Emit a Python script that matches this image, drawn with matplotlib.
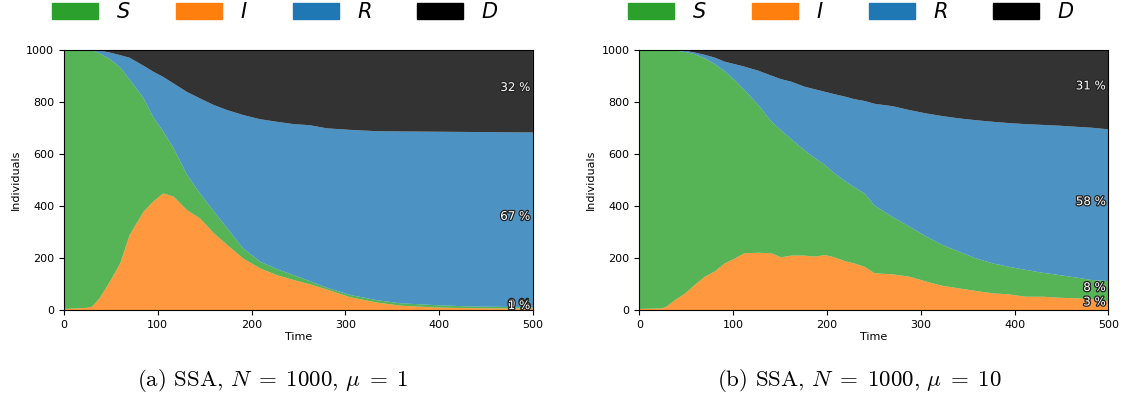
import numpy as np
import matplotlib.pyplot as plt
import matplotlib.patheffects as pe
from matplotlib.patches import Patch

N = 1000
names = ['S', 'I', 'R', 'D']
colors = {'S': 'tab:green', 'I': 'tab:orange', 'R': 'tab:blue', 'D': 'black'}

# (a) SSA, mu = 1
t_a = [0, 24, 30, 38, 49, 60, 70, 85, 95, 106, 117, 131, 145, 160, 174, 191, 209,
       227, 245, 262, 280, 305, 333, 358, 394, 429, 465, 500]
I_a = [4, 8, 13, 45, 109, 179, 288, 378, 416, 448, 435, 384, 352, 294, 250, 198, 160,
       134, 115, 99, 79, 49, 29, 17, 10, 7, 6, 6]
S_a = [996, 991, 985, 941, 855, 753, 597, 435, 326, 237, 186, 137, 96, 84, 64, 39, 26,
       23, 19, 12, 7, 9, 9, 9, 9, 7, 6, 4]
R_a = [0, 1, 1, 11, 25, 47, 84, 125, 174, 210, 249, 317, 365, 409, 454, 512, 547,
       566, 580, 599, 612, 634, 649, 660, 666, 670, 671, 672]
D_a = [0, 0, 1, 3, 11, 21, 31, 62, 84, 105, 130, 162, 187, 213, 232, 251, 267,
       277, 286, 290, 302, 308, 313, 314, 315, 316, 317, 318]

# (b) SSA, mu = 10
t_b = [0, 24, 29, 38, 49, 59, 70, 80, 91, 102, 112, 127, 141, 151, 162, 176, 187, 198,
       208, 219, 229, 240, 251, 270, 288, 306, 323, 341, 359, 377, 394, 412, 430, 448,
       465, 483, 500]
I_b = [4, 6, 13, 38, 64, 96, 128, 147, 179, 198, 218, 220, 218, 202, 209, 209, 205, 211,
       202, 188, 179, 166, 141, 137, 128, 109, 93, 83, 73, 64, 60, 51, 51, 47,
       45, 42, 34]
S_b = [996, 993, 986, 959, 927, 887, 838, 799, 738, 684, 627, 567, 505, 489, 447, 405, 379, 346,
       323, 308, 293, 282, 259, 221, 192, 173, 157, 141, 125, 115, 106, 103, 92, 87,
       80, 73, 77]
R_b = [0, 1, 1, 2, 5, 6, 14, 24, 37, 62, 90, 132, 177, 196, 221, 244, 264, 281,
       304, 324, 338, 355, 392, 425, 448, 473, 495, 512, 531, 544, 552, 560, 568, 574,
       579, 585, 583]
D_b = [0, 0, 0, 1, 4, 11, 20, 30, 46, 56, 65, 81, 100, 113, 123, 142, 152, 162,
       171, 180, 190, 197, 208, 217, 232, 245, 255, 264, 271, 277, 282, 286, 289, 292,
       296, 300, 306]

captions = [r'(a) SSA, $N\;=\;1000$, $\mu\;=\;1$', r'(b) SSA, $N\;=\;1000$, $\mu\;=\;10$']


# stacked areas, I at the bottom, then S, R, D
def draw_panel(ax, t, S, I, R, D):
    series = {'S': S, 'I': I, 'R': R, 'D': D}
    order = ['I', 'S', 'R', 'D']
    ax.stackplot(t, *[series[k] for k in order],
                 colors=[colors[k] for k in order], alpha=0.8, linewidth=1)
    ax.set_xlim(0, 500)
    ax.set_ylim(0, N)
    ax.set_xticks(np.arange(0, 501, 100))
    ax.set_yticks(np.arange(0, 1001, 200))
    ax.tick_params(labelsize=8)
    ax.set_xlabel('Time', fontsize=8, labelpad=2)
    ax.set_ylabel('Individuals', fontsize=8)
    # final share of each compartment, drawn top-down so I ends up on top
    mids = {}
    base = 0
    for k in order:
        mids[k] = base + series[k][-1] / 2
        base += series[k][-1]
    for k in order[::-1]:
        v = series[k][-1]
        ax.text(497, mids[k] + 14, '{:.0f} %'.format(v / N * 100),
                ha='right', va='center', fontsize=8.5, color='white',
                path_effects=[pe.withStroke(linewidth=1.8, foreground='#222222')])


fig = plt.figure(figsize=(11.26, 4.03), dpi=100)
ax_a = fig.add_axes([0.0568, 0.2308, 0.4165, 0.6459])
ax_b = fig.add_axes([0.5678, 0.2308, 0.4165, 0.6459])
draw_panel(ax_a, t_a, S_a, I_a, R_a, D_a)
draw_panel(ax_b, t_b, S_b, I_b, R_b, D_b)

handles = [Patch(color=colors[k]) for k in names]
labels = ['$' + k + '$' for k in names]
for x in [275 / 1126, 851 / 1126]:
    fig.legend(handles, labels, loc='center', bbox_to_anchor=(x, 1 - 12 / 403),
               ncol=4, frameon=False, fontsize=15, handlelength=2.2,
               handleheight=0.8, columnspacing=2.2, handletextpad=0.85,
               borderpad=0, borderaxespad=0)

for x, c in zip([273 / 1126, 859 / 1126], captions):
    fig.text(x, 1 - 380 / 403, c, ha='center', va='center', fontsize=16.5,
             fontfamily='cmr10', math_fontfamily='cm')

fig.savefig('out.png', dpi=100)
